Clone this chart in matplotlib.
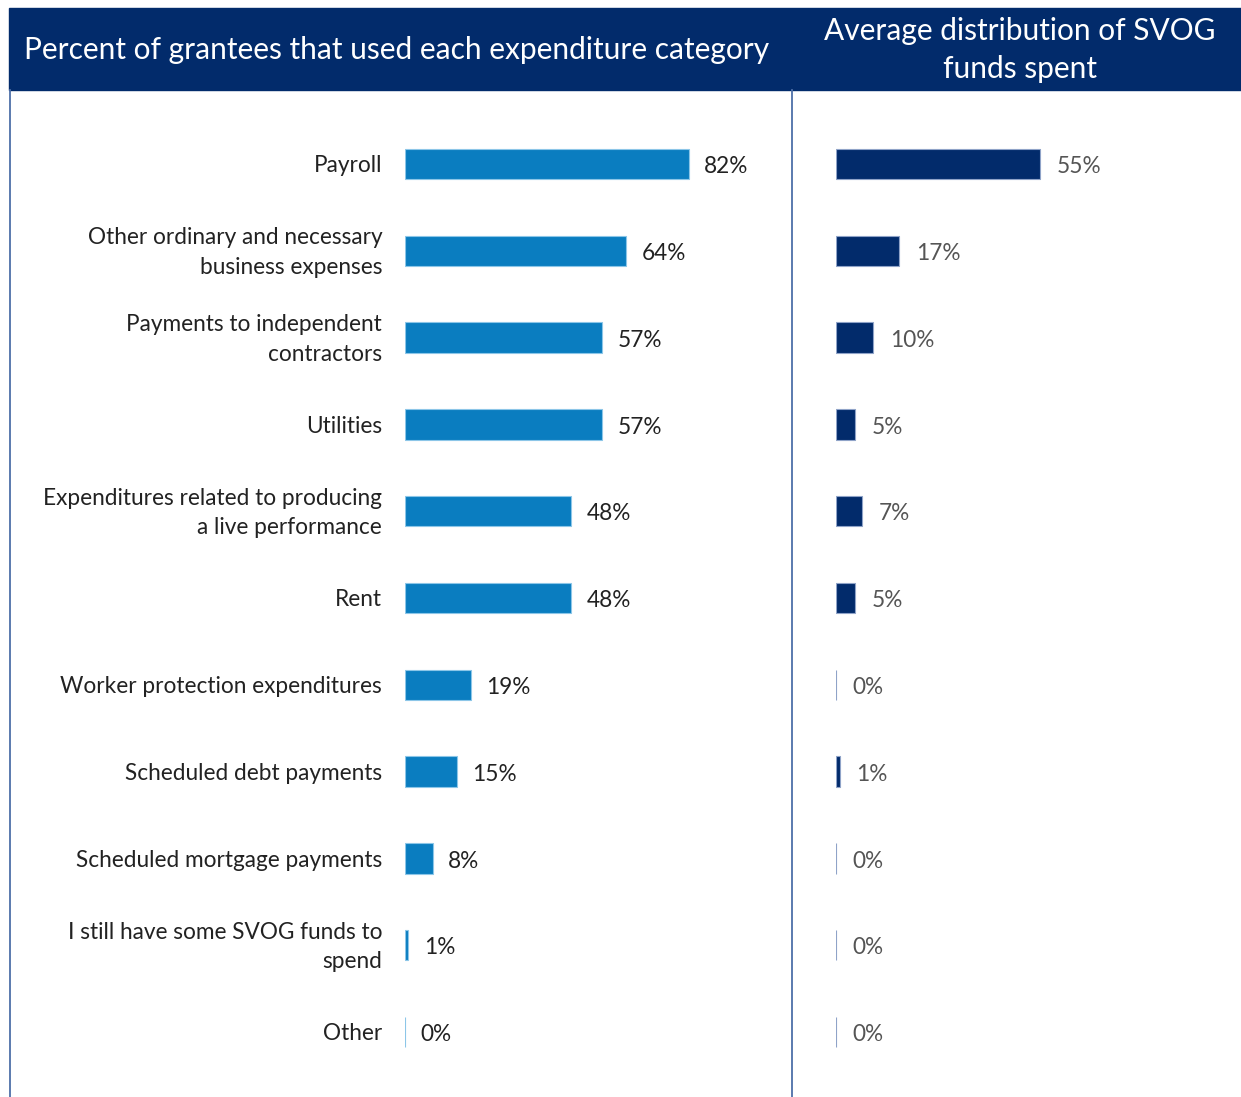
import matplotlib.pyplot as plt
from matplotlib.patches import Rectangle

plt.rcParams['font.family'] = ['Lato', 'DejaVu Sans']

categories = [
    "Payroll",
    "Other ordinary and necessary\nbusiness expenses",
    "Payments to independent\ncontractors",
    "Utilities",
    "Expenditures related to producing\na live performance",
    "Rent",
    "Worker protection expenditures",
    "Scheduled debt payments",
    "Scheduled mortgage payments",
    "I still have some SVOG funds to\nspend",
    "Other",
]
pct_used = [82, 64, 57, 57, 48, 48, 19, 15, 8, 1, 0]
avg_share = [55, 17, 10, 5, 7, 5, 0, 1, 0, 0, 0]

left_title = "Percent of grantees that used each expenditure category"
right_title = "Average distribution of SVOG\nfunds spent"

navy = "#022b6b"
blue = "#0a7dc0"
rule = "#4d6fa8"

W, H = 1241, 1097
fig = plt.figure(figsize=(W / 100, H / 100), dpi=100)


def fx(px):
    return px / W


def fy(py):
    return 1 - py / H


# header band
fig.patches.append(Rectangle((fx(9), fy(90)), 1 - fx(9), fy(8) - fy(90),
                             transform=fig.transFigure, color=navy, zorder=0))
fig.text(fx(397), fy(50), left_title, color="white", fontsize=21.5,
         ha="center", va="center")
fig.text(fx(1020), fy(50), right_title, color="white", fontsize=21.5,
         ha="center", va="center", linespacing=1.45)

# panel rules
for x in (9.5, 792):
    fig.add_artist(plt.Line2D([fx(x), fx(x)], [fy(90), 0], color=rule, lw=1.3,
                              transform=fig.transFigure))

n = len(categories)
ypos = list(range(n))
top, bottom = fy(120.6), fy(1075.4)

ax1 = fig.add_axes([fx(405), bottom, fx(346), top - bottom])
ax2 = fig.add_axes([fx(836), bottom, fx(371), top - bottom])

panels = [
    (ax1, pct_used, blue, "#8cc6e8", "#222222"),
    (ax2, avg_share, navy, "#8fa3c8", "#555555"),
]
for ax, vals, color, edge, txtcolor in panels:
    ax.barh(ypos, vals, height=0.35, color=color, edgecolor=edge, linewidth=0.8)
    for y, v in zip(ypos, vals):
        ax.text(v + 4.5, y + 0.03, f"{v}%", va="center", ha="left",
                fontsize=16.3, color=txtcolor)
    ax.set_xlim(0, 100)
    ax.set_ylim(n - 0.5, -0.5)
    ax.axis("off")

for y, lab in zip(ypos, categories):
    ax1.text(-6.6, y + 0.02, lab, ha="right", va="center", fontsize=16.3,
             color="#222222", linespacing=1.5)

fig.savefig("out.png", dpi=100)
